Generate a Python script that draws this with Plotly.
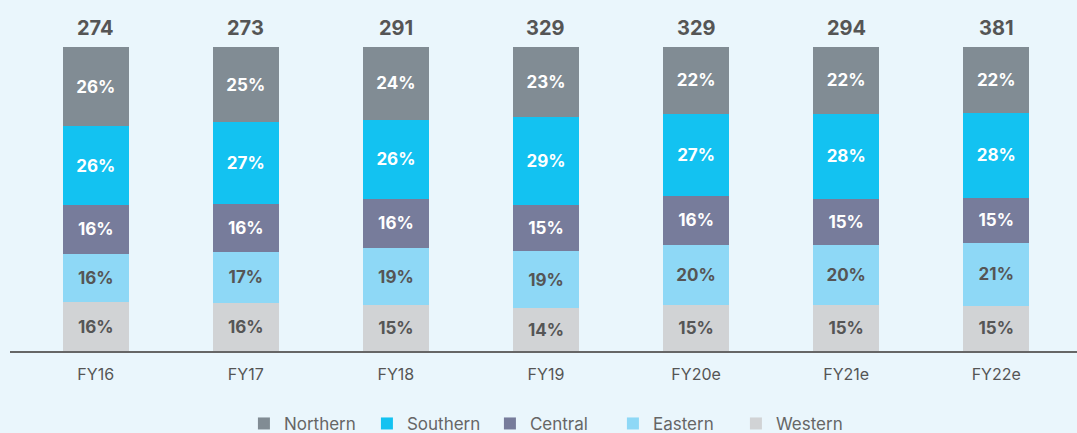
import plotly.graph_objects as go

categories = ["FY16", "FY17", "FY18", "FY19", "FY20e", "FY21e", "FY22e"]
totals = [274, 273, 291, 329, 329, 294, 381]
western = [16, 16, 15, 14, 15, 15, 15]
eastern = [16, 17, 19, 19, 20, 20, 21]
central = [16, 16, 16, 15, 16, 15, 15]
southern = [26, 27, 26, 29, 27, 28, 28]
northern = [26, 25, 24, 23, 22, 22, 22]

series = [
    ("Western", western, "#D1D3D5", "#555555"),
    ("Eastern", eastern, "#8ED8F6", "#555555"),
    ("Central", central, "#777C9B", "#FFFFFF"),
    ("Southern", southern, "#13C2F1", "#FFFFFF"),
    ("Northern", northern, "#818C94", "#FFFFFF"),
]

fig = go.Figure()
for name, vals, color, tcolor in series:
    fig.add_trace(go.Bar(
        x=categories, y=vals, name=name,
        marker=dict(color=color, line=dict(width=0)),
        text=[f"{v}%" for v in vals],
        textposition="inside", insidetextanchor="middle",
        textfont=dict(family="Inter", size=17, color=tcolor, weight="bold"),
        textangle=0,
        width=0.44,
        hoverinfo="skip",
    ))

for c, t in zip(categories, totals):
    fig.add_annotation(x=c, y=100, yref="y", text=f"<b>{t}</b>", showarrow=False,
                       yanchor="bottom", yshift=5,
                       font=dict(family="Inter", size=20, color="#555555"))

fig.update_layout(
    barmode="stack", barnorm="percent",
    width=1077, height=433,
    paper_bgcolor="#EAF6FC", plot_bgcolor="#EAF6FC",
    margin=dict(l=10, r=0, t=47, b=82),
    showlegend=True,
    legend=dict(orientation="h", xref="container", x=0.512, xanchor="center",
                yref="container", y=0.021, yanchor="middle",
                traceorder="reversed", entrywidth=78,
                font=dict(family="Inter", size=17, color="#666666"),
                itemwidth=30, bgcolor="rgba(0,0,0,0)"),
    uniformtext=dict(minsize=17, mode="show"),
)
fig.update_xaxes(range=[-0.571, 6.538], showline=True, linecolor="#666666", linewidth=2,
                 ticks="", showgrid=False, ticklabelstandoff=8,
                 tickfont=dict(family="Inter", size=16, color="#555555"))
fig.update_yaxes(range=[0, 100], visible=False, showgrid=False)

fig.write_html("out.html", config={"displayModeBar": False},
               post_script="document.body.style.margin='0';document.body.style.background='#EAF6FC';")
